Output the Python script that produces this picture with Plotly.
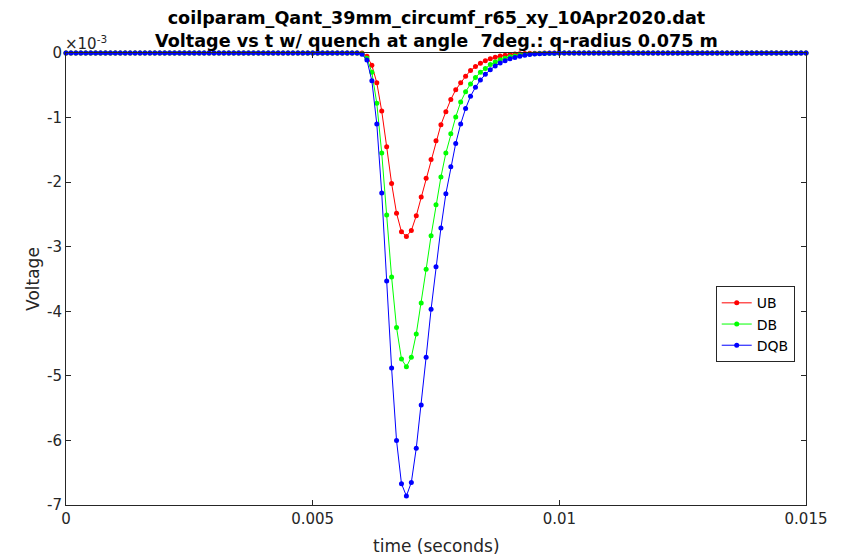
import plotly.graph_objects as go

# sampling grid (seconds)
time_s = [i / 10000 for i in range(151)]

# values in units of 1e-3 V, samples 0.0000..0.0150 s
UB = [0]*60 + [
    0, -0.05, -0.19, -0.46, -0.90, -1.45, -2.02, -2.48, -2.77, -2.84,
    -2.75, -2.52, -2.23, -1.94, -1.65, -1.36, -1.11, -0.91, -0.72, -0.57,
    -0.46, -0.36, -0.27, -0.21, -0.16, -0.12, -0.09, -0.065, -0.047, -0.034,
    -0.024, -0.017, -0.012, -0.008, -0.005, -0.003, -0.002, -0.001, -0.0005, 0,
    0] + [0]*50
DB = [0]*60 + [
    -0.01, -0.08, -0.30, -0.78, -1.55, -2.51, -3.47, -4.25, -4.74, -4.86,
    -4.71, -4.35, -3.87, -3.35, -2.83, -2.35, -1.92, -1.55, -1.25, -0.99,
    -0.76, -0.60, -0.48, -0.38, -0.30, -0.24, -0.18, -0.14, -0.105, -0.08,
    -0.06, -0.045, -0.033, -0.024, -0.017, -0.012, -0.008, -0.005, -0.003, -0.002,
    -0.001] + [0]*50
DQB = [0]*60 + [
    -0.02, -0.11, -0.43, -1.10, -2.17, -3.53, -4.88, -6.00, -6.67, -6.86,
    -6.65, -6.12, -5.45, -4.71, -3.97, -3.31, -2.71, -2.18, -1.76, -1.40,
    -1.10, -0.86, -0.67, -0.53, -0.42, -0.33, -0.26, -0.20, -0.155, -0.12,
    -0.09, -0.068, -0.05, -0.036, -0.025, -0.017, -0.011, -0.007, -0.004, -0.002,
    -0.001] + [0]*50

series_names = ["UB", "DB", "DQB"]
series_colors = ["#ff0000", "#00ff00", "#0000ff"]

x_tick_vals = [0, 0.005, 0.01, 0.015]
x_tick_text = ["0", "0.005", "0.01", "0.015"]
y_tick_vals = [0, -1, -2, -3, -4, -5, -6, -7]
y_tick_text = ["0", "-1", "-2", "-3", "-4", "-5", "-6", "-7"]

title_lines = ["coilparam_Qant_39mm_circumf_r65_xy_10Apr2020.dat",
               "Voltage vs t w/ quench at angle \u00a07deg.: q-radius 0.075 m"]
x_label = "time (seconds)"
y_label = "Voltage"

FONT = "DejaVu Sans"
AX = "#262626"

fig = go.Figure()
for name, vals, col in zip(series_names, [UB, DB, DQB], series_colors):
    fig.add_trace(go.Scatter(
        x=time_s, y=vals, name=name, mode="lines+markers",
        line=dict(color=col, width=1),
        marker=dict(color=col, size=5),
        cliponaxis=False,
    ))

axis_common = dict(showline=True, linecolor=AX, linewidth=1, mirror="allticks",
                   ticks="inside", ticklen=5, tickcolor=AX, showgrid=False,
                   zeroline=False, tickfont=dict(family=FONT, size=15, color=AX))

fig.update_layout(
    width=844, height=555,
    paper_bgcolor="white", plot_bgcolor="white",
    margin=dict(l=66, r=38, t=53, b=50),
    font=dict(family=FONT, size=15, color=AX),
    xaxis=dict(range=[0, 0.015], tickvals=x_tick_vals, ticktext=x_tick_text,
               automargin=False, **axis_common),
    yaxis=dict(range=[-7, 0], tickvals=y_tick_vals, ticktext=y_tick_text,
               title=dict(text=y_label, font=dict(family=FONT, size=17, color=AX), standoff=3),
               **axis_common),
    legend=dict(x=0.878, y=0.484, xanchor="left", yanchor="top",
                bgcolor="white", bordercolor=AX, borderwidth=1,
                font=dict(family=FONT, size=14, color="black"),
                tracegroupgap=0, itemwidth=30),
    showlegend=True,
)

fig.add_annotation(text="<b>" + title_lines[0] + "</b><br><b>" + title_lines[1] + "</b>",
                   xref="paper", yref="paper", x=0.5, y=1, xanchor="center", yanchor="bottom",
                   yshift=0, showarrow=False, font=dict(family=FONT, size=17.6, color="black"))
fig.add_annotation(text="\u00d710<sup>-3</sup>", xref="paper", yref="paper", x=0, y=1,
                   xanchor="left", yanchor="bottom", xshift=-3, yshift=-2, showarrow=False,
                   font=dict(family=FONT, size=15, color=AX))
fig.add_annotation(text=x_label, xref="paper", yref="paper", x=0.5, y=0,
                   xanchor="center", yanchor="top", yshift=-29, showarrow=False,
                   font=dict(family=FONT, size=17, color=AX))

fig.write_html("out.html", config={"displayModeBar": False},
               post_script="document.body.style.margin='0';")
